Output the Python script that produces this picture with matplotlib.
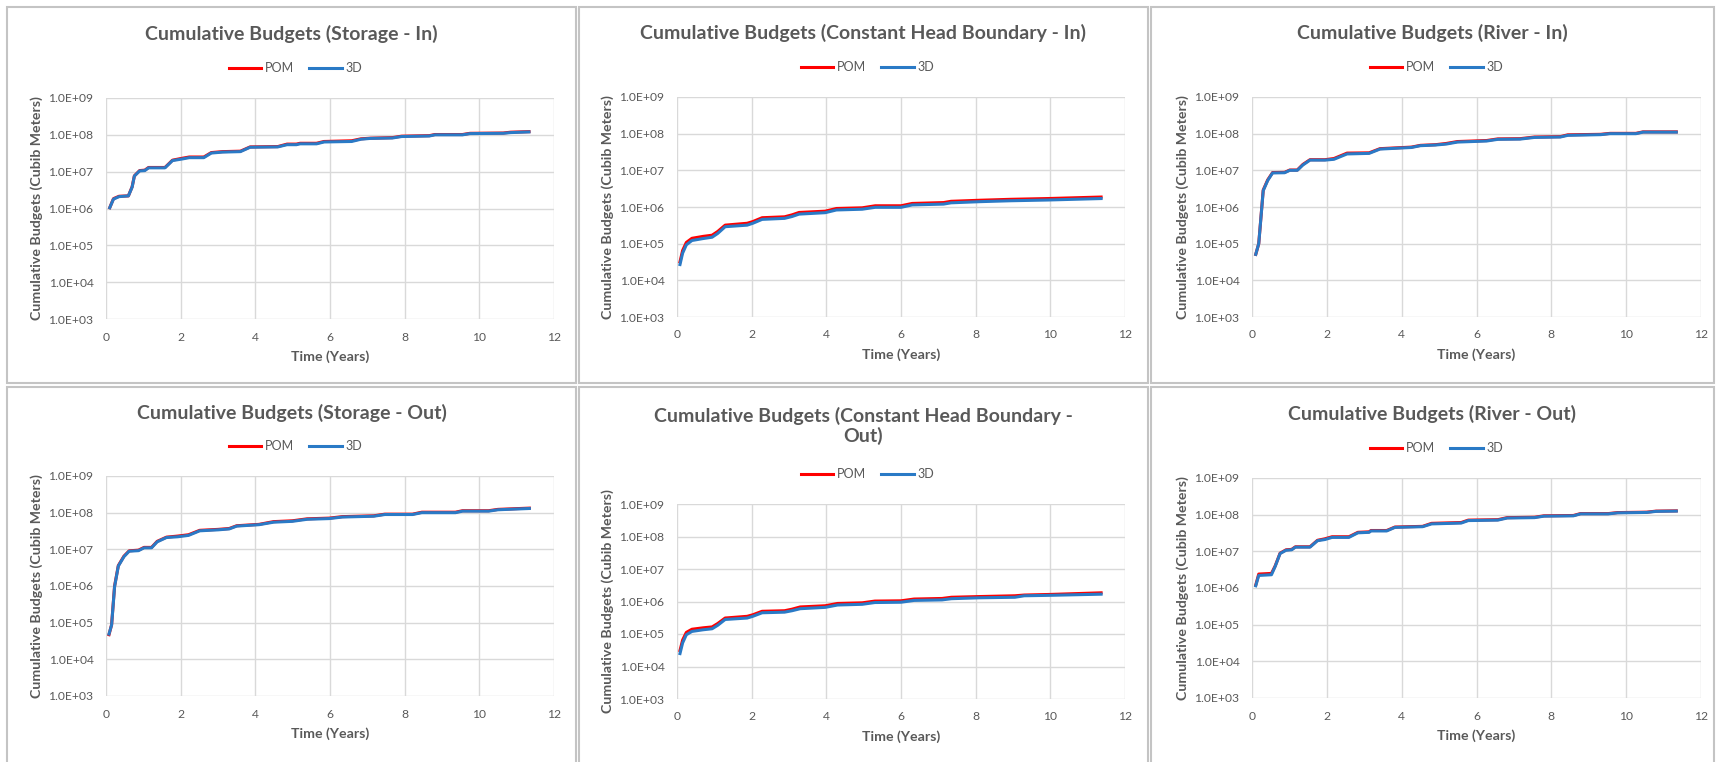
import numpy as np
import matplotlib
matplotlib.use("Agg")
import matplotlib.pyplot as plt
from matplotlib.patches import Rectangle

plt.rcParams['font.family'] = ['Lato', 'DejaVu Sans']

W, H = 1716, 762
GRAY = "#595959"
RED = "#ff0000"
BLUE = "#2a7ac6"

# ---- data ----
t_stor_in = [0.1, 0.2, 0.35, 0.6, 0.7, 0.76, 0.9, 1.04, 1.14, 1.58, 1.78, 2.03, 2.23, 2.62, 2.82,
             3.12, 3.6, 3.86, 4.6, 4.85, 5.1, 5.2, 5.64, 5.84, 6.58, 6.83, 7.08, 7.67, 7.92, 8.66,
             8.81, 9.55, 9.75, 10.64, 10.84, 11.33]
stor_in_3d = [1.05e6, 1.8e6, 2.1e6, 2.2e6, 3.8e6, 7.6e6, 1.05e7, 1.07e7, 1.27e7, 1.27e7, 2.0e7,
              2.2e7, 2.4e7, 2.4e7, 3.2e7, 3.4e7, 3.5e7, 4.6e7, 4.7e7, 5.4e7, 5.4e7, 5.7e7, 5.7e7,
              6.4e7, 6.6e7, 7.6e7, 8.0e7, 8.2e7, 9.0e7, 9.3e7, 1.0e8, 1.0e8, 1.08e8, 1.1e8, 1.15e8, 1.2e8]
stor_in_pom = [1.05e6, 1.85e6, 2.15e6, 2.2e6, 3.9e6, 7.7e6, 1.07e7, 1.1e7, 1.3e7, 1.3e7, 2.05e7,
               2.3e7, 2.5e7, 2.5e7, 3.3e7, 3.5e7, 3.6e7, 4.7e7, 4.8e7, 5.6e7, 5.6e7, 5.9e7, 5.9e7,
               6.6e7, 6.9e7, 7.8e7, 8.1e7, 8.4e7, 9.2e7, 9.5e7, 1.02e8, 1.02e8, 1.1e8, 1.12e8, 1.18e8, 1.22e8]

t_chb_in = [0.08, 0.15, 0.25, 0.4, 0.7, 0.94, 1.09, 1.29, 1.88, 2.03, 2.28, 2.88, 3.08, 3.27, 3.97,
            4.27, 4.96, 5.31, 6.0, 6.3, 7.14, 7.34, 8.13, 8.93, 9.92, 11.36]
chb_in_3d = [2.7e4, 5.5e4, 9.3e4, 1.22e5, 1.38e5, 1.5e5, 1.9e5, 2.9e5, 3.2e5, 3.6e5, 4.6e5, 4.9e5,
             5.5e5, 6.4e5, 7.0e5, 8.3e5, 8.7e5, 9.8e5, 9.8e5, 1.14e6, 1.2e6, 1.3e6, 1.4e6, 1.48e6,
             1.55e6, 1.7e6]
chb_in_pom = [3.2e4, 6.5e4, 1.08e5, 1.4e5, 1.58e5, 1.7e5, 2.15e5, 3.2e5, 3.6e5, 4.0e5, 5.1e5, 5.4e5,
              6.1e5, 7.1e5, 7.7e5, 9.1e5, 9.5e5, 1.08e6, 1.08e6, 1.25e6, 1.32e6, 1.43e6, 1.53e6,
              1.62e6, 1.7e6, 1.87e6]

t_riv_in = [0.1, 0.18, 0.3, 0.42, 0.55, 0.87, 1.01, 1.21, 1.36, 1.55, 1.95, 2.19, 2.54, 3.13, 3.42,
            4.26, 4.5, 4.9, 5.19, 5.49, 6.27, 6.57, 7.16, 7.55, 8.24, 8.44, 9.32, 9.57, 10.26, 10.45, 11.34]
riv_in_3d = [5.1e4, 1.0e5, 2.8e6, 5.3e6, 8.5e6, 8.6e6, 1.0e7, 1.0e7, 1.4e7, 1.9e7, 1.9e7, 2.0e7,
             2.8e7, 2.9e7, 3.8e7, 4.2e7, 4.7e7, 4.9e7, 5.2e7, 5.9e7, 6.3e7, 7.0e7, 7.1e7, 7.9e7,
             8.1e7, 9.0e7, 9.4e7, 1.0e8, 1.0e8, 1.1e8, 1.1e8]
riv_in_pom = [5.1e4, 1.0e5, 2.9e6, 5.5e6, 8.7e6, 8.8e6, 1.02e7, 1.02e7, 1.45e7, 1.95e7, 1.95e7, 2.1e7,
              2.95e7, 3.0e7, 3.9e7, 4.3e7, 4.8e7, 5.0e7, 5.4e7, 6.1e7, 6.5e7, 7.2e7, 7.3e7, 8.1e7,
              8.3e7, 9.3e7, 9.6e7, 1.02e8, 1.02e8, 1.12e8, 1.12e8]

t_stor_out = [0.08, 0.15, 0.23, 0.33, 0.48, 0.62, 0.87, 1.02, 1.22, 1.37, 1.62, 1.92, 2.21, 2.51, 3.0,
              3.3, 3.5, 4.1, 4.49, 4.99, 5.39, 5.98, 6.33, 7.17, 7.47, 8.21, 8.46, 9.36, 9.55, 10.25,
              10.5, 11.34]
stor_out_3d = [4.9e4, 8.6e4, 9.6e5, 3.5e6, 6.3e6, 8.9e6, 9.2e6, 1.1e7, 1.1e7, 1.6e7, 2.1e7, 2.2e7,
               2.4e7, 3.2e7, 3.4e7, 3.6e7, 4.3e7, 4.7e7, 5.5e7, 5.8e7, 6.6e7, 6.9e7, 7.6e7, 8.0e7,
               8.9e7, 8.9e7, 1.0e8, 1.0e8, 1.1e8, 1.1e8, 1.2e8, 1.3e8]
stor_out_pom = [4.7e4, 8.8e4, 1.0e6, 3.6e6, 6.5e6, 9.1e6, 9.5e6, 1.13e7, 1.13e7, 1.65e7, 2.15e7, 2.3e7,
                2.5e7, 3.3e7, 3.5e7, 3.7e7, 4.4e7, 4.8e7, 5.7e7, 6.0e7, 6.8e7, 7.1e7, 7.8e7, 8.2e7,
                9.1e7, 9.1e7, 1.03e8, 1.03e8, 1.13e8, 1.13e8, 1.23e8, 1.33e8]

t_chb_out = [0.08, 0.15, 0.25, 0.4, 0.7, 0.94, 1.09, 1.29, 1.88, 2.03, 2.28, 2.88, 3.08, 3.3, 3.97,
             4.3, 4.96, 5.3, 6.0, 6.35, 7.1, 7.35, 8.1, 9.05, 9.3, 10.0, 11.36]
chb_out_3d = [2.5e4, 5.3e4, 9.5e4, 1.2e5, 1.35e5, 1.45e5, 1.85e5, 2.8e5, 3.1e5, 3.5e5, 4.5e5, 4.7e5,
              5.2e5, 6.0e5, 6.6e5, 7.8e5, 8.2e5, 9.3e5, 9.5e5, 1.08e6, 1.12e6, 1.22e6, 1.3e6, 1.35e6,
              1.5e6, 1.55e6, 1.68e6]
chb_out_pom = [3.1e4, 6.5e4, 1.12e5, 1.4e5, 1.55e5, 1.65e5, 2.1e5, 3.1e5, 3.5e5, 3.9e5, 5.0e5, 5.2e5,
               5.8e5, 6.8e5, 7.4e5, 8.7e5, 9.1e5, 1.03e6, 1.05e6, 1.19e6, 1.24e6, 1.35e6, 1.42e6, 1.5e6,
               1.58e6, 1.65e6, 1.85e6]

t_riv_out = [0.1, 0.18, 0.52, 0.62, 0.75, 0.91, 1.06, 1.16, 1.55, 1.75, 1.95, 2.14, 2.59, 2.83, 3.13,
             3.18, 3.6, 3.82, 4.56, 4.8, 5.59, 5.78, 6.57, 6.82, 7.55, 7.8, 8.59, 8.78, 9.52, 9.77,
             10.55, 10.8, 11.34]
riv_out_3d = [1.15e6, 2.2e6, 2.3e6, 3.9e6, 8.7e6, 1.07e7, 1.1e7, 1.3e7, 1.3e7, 1.95e7, 2.1e7, 2.4e7,
              2.4e7, 3.2e7, 3.3e7, 3.6e7, 3.6e7, 4.5e7, 4.7e7, 5.6e7, 5.9e7, 6.9e7, 7.1e7, 8.1e7,
              8.3e7, 9.1e7, 9.3e7, 1.05e8, 1.05e8, 1.12e8, 1.15e8, 1.23e8, 1.25e8]
riv_out_pom = [1.2e6, 2.4e6, 2.5e6, 4.0e6, 8.9e6, 1.1e7, 1.13e7, 1.33e7, 1.33e7, 2.0e7, 2.2e7, 2.5e7,
               2.5e7, 3.3e7, 3.4e7, 3.7e7, 3.7e7, 4.6e7, 4.8e7, 5.8e7, 6.1e7, 7.1e7, 7.3e7, 8.3e7,
               8.5e7, 9.3e7, 9.5e7, 1.07e8, 1.07e8, 1.14e8, 1.17e8, 1.25e8, 1.27e8]

titles = ["Cumulative Budgets (Storage - In)",
          "Cumulative Budgets (Constant Head Boundary - In)",
          "Cumulative Budgets (River - In)",
          "Cumulative Budgets (Storage - Out)",
          "Cumulative Budgets (Constant Head Boundary -\nOut)",
          "Cumulative Budgets (River - Out)"]
series = [(t_stor_in, stor_in_pom, stor_in_3d),
          (t_chb_in, chb_in_pom, chb_in_3d),
          (t_riv_in, riv_in_pom, riv_in_3d),
          (t_stor_out, stor_out_pom, stor_out_3d),
          (t_chb_out, chb_out_pom, chb_out_3d),
          (t_riv_out, riv_out_pom, riv_out_3d)]
ytick_vals = [1e3, 1e4, 1e5, 1e6, 1e7, 1e8, 1e9]
ytick_labels = ["1.0E+03", "1.0E+04", "1.0E+05", "1.0E+06", "1.0E+07", "1.0E+08", "1.0E+09"]

# layout in pixels: panel frames, axes boxes (left, right, top, bottom), title y, legend y
frames = [(7, 576, 7, 383), (579, 1148, 7, 383), (1151, 1714, 7, 383),
          (7, 576, 387, 770), (579, 1148, 387, 770), (1151, 1714, 387, 770)]
boxes = [(106, 554, 98, 319), (677, 1125, 97, 317), (1252, 1701, 97, 317),
         (106, 554, 476, 696), (677, 1125, 504, 699), (1252, 1701, 478, 698)]
title_y = [34, 33, 33, 413, 426, 414]
legend_y = [68, 67, 67, 446, 474, 448]

fig = plt.figure(figsize=(W / 100, H / 100), dpi=100)

for i in range(6):
    fl, fr, ft, fb = frames[i]
    fig.patches.append(Rectangle((fl / W, 1 - fb / H), (fr - fl) / W, (fb - ft) / H,
                                 transform=fig.transFigure, fill=False,
                                 edgecolor="#c4c4c4", linewidth=1.5))
    l, r, t, b = boxes[i]
    ax = fig.add_axes([l / W, 1 - b / H, (r - l) / W, (b - t) / H])
    tt, pom, d3 = series[i]
    ax.plot(tt, pom, color=RED, lw=2.2, label="POM")
    ax.plot(tt, d3, color=BLUE, lw=2.2, label="3D")
    ax.set_yscale("log")
    ax.set_ylim(1e3, 1e9)
    ax.set_xlim(0, 12)
    ax.set_yticks(ytick_vals)
    ax.set_yticklabels(ytick_labels)
    ax.minorticks_off()
    ax.set_xticks(range(0, 13, 2))
    ax.grid(True, color="#d9d9d9", lw=1)
    ax.set_axisbelow(True)
    for s in ax.spines.values():
        s.set_visible(False)
    ax.tick_params(length=0, labelsize=8.7, colors=GRAY, pad=9)
    ax.set_xlabel("Time (Years)", fontsize=10.2, fontweight="bold", color=GRAY, va="center")
    ax.xaxis.set_label_coords(0.5, -38 / (b - t))
    ax.set_ylabel("Cumulative Budgets (Cubib Meters)", fontsize=10.2, fontweight="bold",
                  color=GRAY, va="center")
    ax.yaxis.set_label_coords(-0.155, 0.5)

    cx = (fl + fr) / 2
    fig.text(cx / W, 1 - title_y[i] / H, titles[i], ha="center", va="center",
             fontsize=14, fontweight="bold", color=GRAY, linespacing=1.15)
    fig.legend(*ax.get_legend_handles_labels(), loc="center", ncol=2, frameon=False,
               bbox_to_anchor=((cx + 4) / W, 1 - legend_y[i] / H), fontsize=9,
               labelcolor=GRAY, handlelength=2.6, handletextpad=0.3, columnspacing=1.2)

fig.savefig("out.png", dpi=100, facecolor="white")
